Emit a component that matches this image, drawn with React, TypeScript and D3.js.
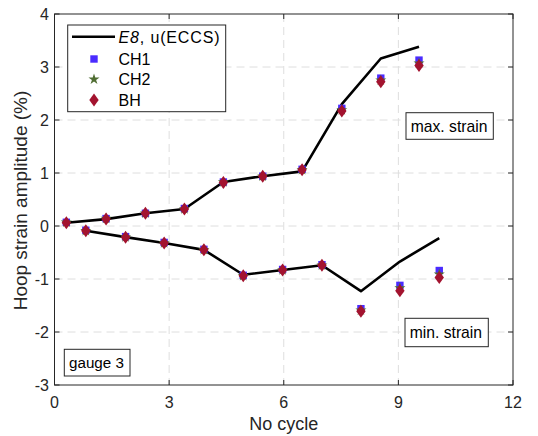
import React from "react";
import * as d3 from "d3";

const xTicks = [0, 3, 6, 9, 12];
const yTicks = [-3, -2, -1, 0, 1, 2, 3, 4];

const cycleMax = [0.31, 1.35, 2.38, 3.4, 4.42, 5.45, 6.48, 7.52, 8.54, 9.54];
const cycleMin = [0.82, 1.86, 2.87, 3.91, 4.94, 5.97, 7.0, 8.02, 9.04, 10.07];

const e8Max = [0.06, 0.13, 0.24, 0.32, 0.83, 0.94, 1.03, 2.3, 3.16, 3.38];
const e8Min = [-0.09, -0.21, -0.32, -0.45, -0.92, -0.83, -0.74, -1.23, -0.67, -0.23];

const ch1Max = [0.07, 0.14, 0.24, 0.33, 0.83, 0.94, 1.07, 2.22, 2.79, 3.13];
const ch2Max = [0.07, 0.14, 0.24, 0.32, 0.83, 0.94, 1.06, 2.19, 2.75, 3.07];
const bhMax = [0.06, 0.13, 0.24, 0.32, 0.82, 0.94, 1.06, 2.17, 2.72, 3.03];

const ch1Min = [-0.08, -0.2, -0.31, -0.44, -0.93, -0.82, -0.73, -1.56, -1.12, -0.84];
const ch2Min = [-0.09, -0.21, -0.32, -0.45, -0.94, -0.83, -0.74, -1.59, -1.17, -0.91];
const bhMin = [-0.09, -0.21, -0.32, -0.45, -0.94, -0.83, -0.74, -1.61, -1.22, -0.97];

const W = 538, H = 436;
const L = 54.5, R = 513, T = 14, B = 385;
const FONT = "'Liberation Sans', Arial, sans-serif";
const C_CH1 = "#4a2bff";
const C_CH2 = "#4f6d32";
const C_BH = "#a3132f";

export default function App() {
  const x = d3.scaleLinear().domain([0, 12]).range([L, R]);
  const y = d3.scaleLinear().domain([-3, 4]).range([B, T]);
  const line = d3.line<[number, number]>().x(d => x(d[0])).y(d => y(d[1]));
  const zip = (a: number[], b: number[]) => a.map((v, i) => [v, b[i]] as [number, number]);

  const square = (cx: number, cy: number, k: string) => (
    <rect key={k} x={cx - 3.7} y={cy - 3.7} width={7.4} height={7.4} fill={C_CH1} />
  );
  const starPath = d3.symbol().type(d3.symbolStar).size(38)() as string;
  const star = (cx: number, cy: number, k: string) => (
    <path key={k} d={starPath} transform={`translate(${cx},${cy})`} fill={C_CH2} />
  );
  const diamond = (cx: number, cy: number, k: string) => (
    <path key={k} d={`M${cx},${cy - 6.5}L${cx + 4.7},${cy}L${cx},${cy + 6.5}L${cx - 4.7},${cy}Z`} fill={C_BH} />
  );

  const markers = (xs: number[], ys: number[], fn: any, p: string) =>
    xs.map((v, i) => fn(x(v), y(ys[i]), p + i));

  const axisColor = "#262626";

  return (
    <svg width={W} height={H} style={{ position: "absolute", left: 0, top: 0, background: "#fff" }} fontFamily={FONT}>
      <rect x={0} y={0} width={W} height={H} fill="#fff" />
      {/* grid */}
      {xTicks.slice(1, -1).map(t => (
        <line key={"gx" + t} x1={x(t)} x2={x(t)} y1={T} y2={B} stroke="#dedede" strokeWidth={1} strokeDasharray="8,5" />
      ))}
      {yTicks.slice(1, -1).map(t => (
        <line key={"gy" + t} x1={L} x2={R} y1={y(t)} y2={y(t)} stroke="#dedede" strokeWidth={1} strokeDasharray="8,5" />
      ))}
      {/* lines */}
      <path d={line(zip(cycleMax, e8Max)) as string} fill="none" stroke="#000" strokeWidth={2.6} strokeLinejoin="round" />
      <path d={line(zip(cycleMin, e8Min)) as string} fill="none" stroke="#000" strokeWidth={2.6} strokeLinejoin="round" />
      {/* markers */}
      {markers(cycleMax, ch1Max, square, "s1")}
      {markers(cycleMin, ch1Min, square, "s2")}
      {markers(cycleMax, ch2Max, star, "t1")}
      {markers(cycleMin, ch2Min, star, "t2")}
      {markers(cycleMax, bhMax, diamond, "d1")}
      {markers(cycleMin, bhMin, diamond, "d2")}
      {/* axes box */}
      <rect x={L} y={T} width={R - L} height={B - T} fill="none" stroke={axisColor} strokeWidth={1} />
      {xTicks.map(t => (
        <g key={"xt" + t}>
          <line x1={x(t)} x2={x(t)} y1={B} y2={B - 5} stroke={axisColor} />
          <line x1={x(t)} x2={x(t)} y1={T} y2={T + 5} stroke={axisColor} />
          <text x={x(t)} y={B + 23} fontSize={16} textAnchor="middle" fill="#262626">{t}</text>
        </g>
      ))}
      {yTicks.map(t => (
        <g key={"yt" + t}>
          <line x1={L} x2={L + 5} y1={y(t)} y2={y(t)} stroke={axisColor} />
          <line x1={R} x2={R - 5} y1={y(t)} y2={y(t)} stroke={axisColor} />
          <text x={L - 5.5} y={y(t) + 5.5} fontSize={16} textAnchor="end" fill="#262626">{t < 0 ? "-" + Math.abs(t) : t}</text>
        </g>
      ))}
      <text x={(L + R) / 2} y={429.5} fontSize={18} textAnchor="middle" fill="#262626">No cycle</text>
      <text transform={`translate(26.5,${(T + B) / 2 + 1}) rotate(-90)`} fontSize={19} textAnchor="middle" fill="#262626">
        Hoop strain amplitude (%)
      </text>
      {/* legend */}
      <rect x={67.7} y={25} width={158} height={86.7} fill="#fff" stroke={axisColor} strokeWidth={1} />
      <line x1={72} x2={115} y1={36.7} y2={36.7} stroke="#000" strokeWidth={2.6} />
      <text x={118.5} y={42.5} fontSize={16} fill="#000" textLength={101} lengthAdjust="spacing"><tspan fontStyle="italic">E8</tspan>, u(ECCS)</text>
      {square(94, 59, "ls")}
      <text x={118.5} y={64.8} fontSize={16} fill="#000">CH1</text>
      {star(94, 79.3, "lt")}
      <text x={118.5} y={85.1} fontSize={16} fill="#000">CH2</text>
      {diamond(94, 100, "ld")}
      <text x={118.5} y={105.8} fontSize={16} fill="#000">BH</text>
      {/* annotations */}
      <rect x={406} y={112.7} width={87.3} height={26.6} fill="#fff" stroke={axisColor} />
      <text x={410.7} y={131.5} fontSize={15.7} fill="#000">max. strain</text>
      <rect x={405} y={318.3} width={83.3} height={28.4} fill="#fff" stroke={axisColor} />
      <text x={409.7} y={338} fontSize={15.7} fill="#000">min. strain</text>
      <rect x={64.3} y={349.3} width={65.7} height={26.7} fill="#fff" stroke={axisColor} />
      <text x={69} y={368} fontSize={15.2} fill="#000">gauge 3</text>
    </svg>
  );
}
